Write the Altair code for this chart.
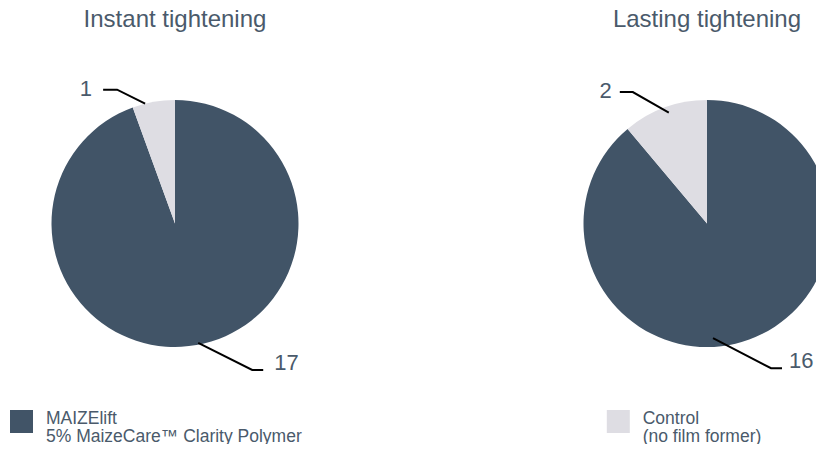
import math
import altair as alt
import pandas as pd

# ---------------- data ----------------
panel_titles = ["Instant tightening", "Lasting tightening"]
series_names = ["MAIZElift", "Control"]
legend_sublabels = ["5% MaizeCare™ Clarity Polymer", "(no film former)"]
instant_values = [17, 1]
lasting_values = [16, 2]

# ---------------- style / layout ----------------
COLORS = ["#415467", "#dedde3"]
TEXT = "#4a5a6b"
FONT = "Liberation Sans"
R = 123.5            # pie radius (px)
ARM = 12             # horizontal arm of leader lines
GAP = 10             # gap between arm and label
XDOM = [-167, 641]   # plot coordinates (px offsets from first pie centre)
YDOM = [-215.5, 220.5]
W = XDOM[1] - XDOM[0]
H = YDOM[1] - YDOM[0]

layouts = [
    dict(cx=0, legend_series=0, square=(-153.5, 198), text_x=-129,
         leaders=[dict(shift=-1, rfrac=0.985, elbow=(54, 27), arm=11, gap=11),
                  dict(shift=-4, rfrac=1.0, elbow=(-28, -14), arm=14, gap=11)]),
    dict(cx=532, legend_series=1, square=(-88.7, 198), text_x=-64.3,
         leaders=[dict(shift=17, rfrac=0.93, elbow=(58, 30), arm=11, gap=7),
                  dict(shift=1, rfrac=0.95, elbow=(-36, -20.5), arm=13, gap=8)]),
]

cscale = alt.Scale(domain=series_names, range=COLORS)
X = alt.X("x:Q", scale=alt.Scale(domain=XDOM, nice=False, zero=False), axis=None)
Y = alt.Y("y:Q", scale=alt.Scale(domain=YDOM, nice=False, zero=False, reverse=True), axis=None)

pie_rows, pts, labs, titles, squares, ltexts = [], [], [], [], [], []
for p, (title, values, lay) in enumerate(zip(panel_titles, [instant_values, lasting_values], layouts)):
    cx = lay["cx"]
    for i, (s, v) in enumerate(zip(series_names, values)):
        pie_rows.append({"panel": p, "series": s, "value": v, "idx": i, "x": cx, "y": 0})
    # leader lines from slice mid angles
    tot = sum(values)
    cum = 0
    for i, v in enumerate(values):
        a0 = cum / tot * 360
        cum += v
        a1 = cum / tot * 360
        ld = lay["leaders"][i]
        mid = math.radians((a0 + a1) / 2 + ld["shift"])
        r = ld["rfrac"] * R
        ax, ay = cx + r * math.sin(mid), -r * math.cos(mid)
        ex, ey = ax + ld["elbow"][0], ay + ld["elbow"][1]
        side = 1 if ld["elbow"][0] > 0 else -1
        fx = ex + side * ld.get("arm", ARM)
        key = f"{p}-{i}"
        for k, (px, py) in enumerate([(ax, ay), (ex, ey), (fx, ey)]):
            pts.append({"key": key, "pt": k, "x": px, "y": py})
        labs.append({"label": str(v), "x": fx + side * ld.get("gap", GAP),
                     "y": ey + (6 if ey < 0 else 0), "side": side})
    titles.append({"t": title, "x": cx, "y": YDOM[0]})
    s = lay["legend_series"]
    squares.append({"series": series_names[s], "x": cx + lay["square"][0], "y": lay["square"][1]})
    ltexts.append({"t": series_names[s], "x": cx + lay["text_x"], "y": lay["square"][1] + 2.5})
    ltexts.append({"t": legend_sublabels[s], "x": cx + lay["text_x"], "y": lay["square"][1] + 20})

pie_df = pd.DataFrame(pie_rows)
arc = alt.Chart(pie_df).transform_joinaggregate(
    total="sum(value)", groupby=["panel"]
).transform_window(
    cum="sum(value)", groupby=["panel"], sort=[alt.SortField("idx")],
    frame=[None, 0]
).transform_calculate(
    t0="(datum.cum - datum.value) / datum.total", t1="datum.cum / datum.total"
).mark_arc(radius=R, clip=True).encode(
    x=X, y=Y,
    theta=alt.Theta("t0:Q", stack=None,
                    scale=alt.Scale(domain=[0, 1], range=[0, 2 * math.pi], nice=False, zero=False)),
    theta2="t1:Q",
    color=alt.Color("series:N", scale=cscale, legend=None),
)

lines = alt.Chart(pd.DataFrame(pts)).mark_line(color="black", strokeWidth=2).encode(
    x=X, y=Y, detail="key:N", order="pt:Q")

labdf = pd.DataFrame(labs)
lab_right = alt.Chart(labdf).transform_filter("datum.side > 0").mark_text(
    align="left", baseline="alphabetic", font=FONT, fontSize=22, color=TEXT
).encode(x=X, y=Y, text="label:N")
lab_left = alt.Chart(labdf).transform_filter("datum.side < 0").mark_text(
    align="right", baseline="alphabetic", font=FONT, fontSize=22, color=TEXT
).encode(x=X, y=Y, text="label:N")

ttl = alt.Chart(pd.DataFrame(titles)).mark_text(
    align="center", baseline="top", font=FONT, fontSize=24, color=TEXT
).encode(x=X, y=Y, text="t:N")

square = alt.Chart(pd.DataFrame(squares)).mark_point(
    shape="square", filled=True, opacity=1, size=529
).encode(x=X, y=Y, color=alt.Color("series:N", scale=cscale, legend=None))

legend_text = alt.Chart(pd.DataFrame(ltexts)).mark_text(
    align="left", baseline="alphabetic", font=FONT, fontSize=17.5, color=TEXT
).encode(x=X, y=Y, text="t:N")

chart = alt.layer(arc, lines, lab_left, lab_right, ttl, square, legend_text).properties(
    width=W, height=H, padding=0, background="white",
    autosize=alt.AutoSizeParams(type="none"),
).configure_view(stroke=None)

chart.save("out.html", embed_options={"renderer": "svg", "actions": False})
